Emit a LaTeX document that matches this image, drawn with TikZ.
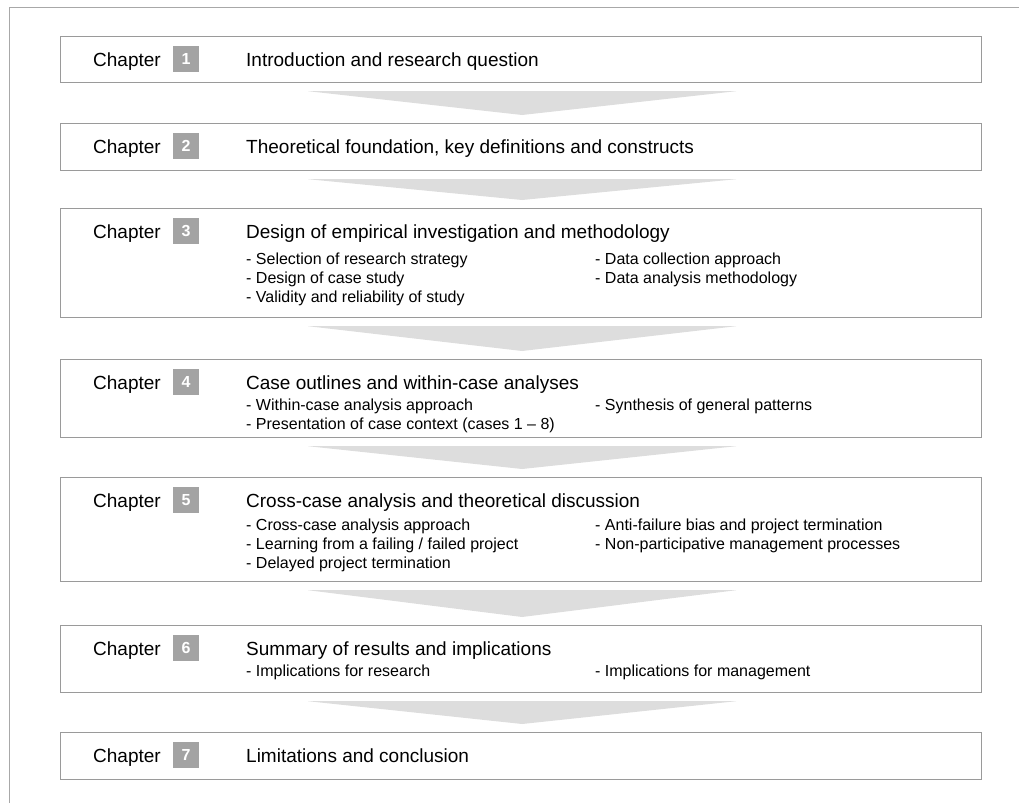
\documentclass[tikz,border=0pt]{standalone}
\usepackage{fontspec}
\setmainfont{Liberation Sans}
\usetikzlibrary{calc}
\definecolor{framegray}{HTML}{A8A8A8}
\definecolor{boxgray}{HTML}{9A9A9A}
\definecolor{numgray}{HTML}{A3A3A3}
\definecolor{flowgray}{HTML}{DDDDDD}
\tikzset{
  chapbox/.style={draw=boxgray, line width=1.2pt, minimum width=921pt, anchor=north west, inner sep=0pt},
  chaplabel/.style={anchor=base west, inner sep=0pt, font=\fontsize{19}{22}\selectfont},
  numsq/.style={fill=numgray, minimum size=26pt, inner sep=0pt, text=white, font=\fontsize{16}{18}\selectfont\bfseries},
  chaptitle/.style={anchor=base west, inner sep=0pt, font=\fontsize{19}{22}\selectfont},
  item/.style={anchor=base west, inner sep=0pt, font=\fontsize{16}{19}\selectfont},
  flow/.style={fill=flowgray},
}
% #1 id, #2 top edge, #3 height, #4 number, #5 title
\newcommand\chaprow[5]{%
  \node[chapbox, minimum height=#3pt] (b#1) at (60,#2) {};
  \node[chaplabel] (c#1) at (93,#2+30) {Chapter};
  \node[numsq] (n#1) at (186,#2+23) {#4};
  \node[chaptitle] (t#1) at (246,#2+30) {#5};
}
% flat downward arrow between two boxes
\newcommand\flowarrow[2]{%
  \fill[flow] ($(#1.south)+(-213,8)$) -- ($(#1.south)+(215,8)$) -- ($(#2.north)+(1,-8)$) -- cycle;
}
\begin{document}
\begin{tikzpicture}[x=1pt,y=-1pt]
\useasboundingbox (0,0) rectangle (1019,803);
% open frame
\draw[framegray, line width=1.2pt] (9.5,803) -- (9.5,7.5) -- (1019,7.5);

\chaprow{1}{36}{46}{1}{Introduction and research question}
\chaprow{2}{123}{47}{2}{Theoretical foundation, key definitions and constructs}
\chaprow{3}{208}{109}{3}{Design of empirical investigation and methodology}
\chaprow{4}{359}{78}{4}{Case outlines and within-case analyses}
\chaprow{5}{477}{104}{5}{Cross-case analysis and theoretical discussion}
\chaprow{6}{625}{67}{6}{Summary of results and implications}
\chaprow{7}{732}{47}{7}{Limitations and conclusion}

% sub-topics
\node[item] (i3a) at (246,264) {- Selection of research strategy};
\node[item] (i3b) at (246,283) {- Design of case study};
\node[item] (i3c) at (246,302) {- Validity and reliability of study};
\node[item] (i3d) at (595,264) {- Data collection approach};
\node[item] (i3e) at (595,283) {- Data analysis methodology};

\node[item] (i4a) at (246,410) {- Within-case analysis approach};
\node[item] (i4b) at (246,429) {- Presentation of case context (cases 1 -- 8)};
\node[item] (i4c) at (595,410) {- Synthesis of general patterns};

\node[item] (i5a) at (246,530) {- Cross-case analysis approach};
\node[item] (i5b) at (246,549) {- Learning from a failing / failed project};
\node[item] (i5c) at (246,568) {- Delayed project termination};
\node[item] (i5d) at (595,530) {- Anti-failure bias and project termination};
\node[item] (i5e) at (595,549) {- Non-participative management processes};

\node[item] (i6a) at (246,676) {- Implications for research};
\node[item] (i6b) at (595,676) {- Implications for management};

% flow between chapters
\flowarrow{b1}{b2}
\flowarrow{b2}{b3}
\flowarrow{b3}{b4}
\flowarrow{b4}{b5}
\flowarrow{b5}{b6}
\flowarrow{b6}{b7}
\end{tikzpicture}
\end{document}
